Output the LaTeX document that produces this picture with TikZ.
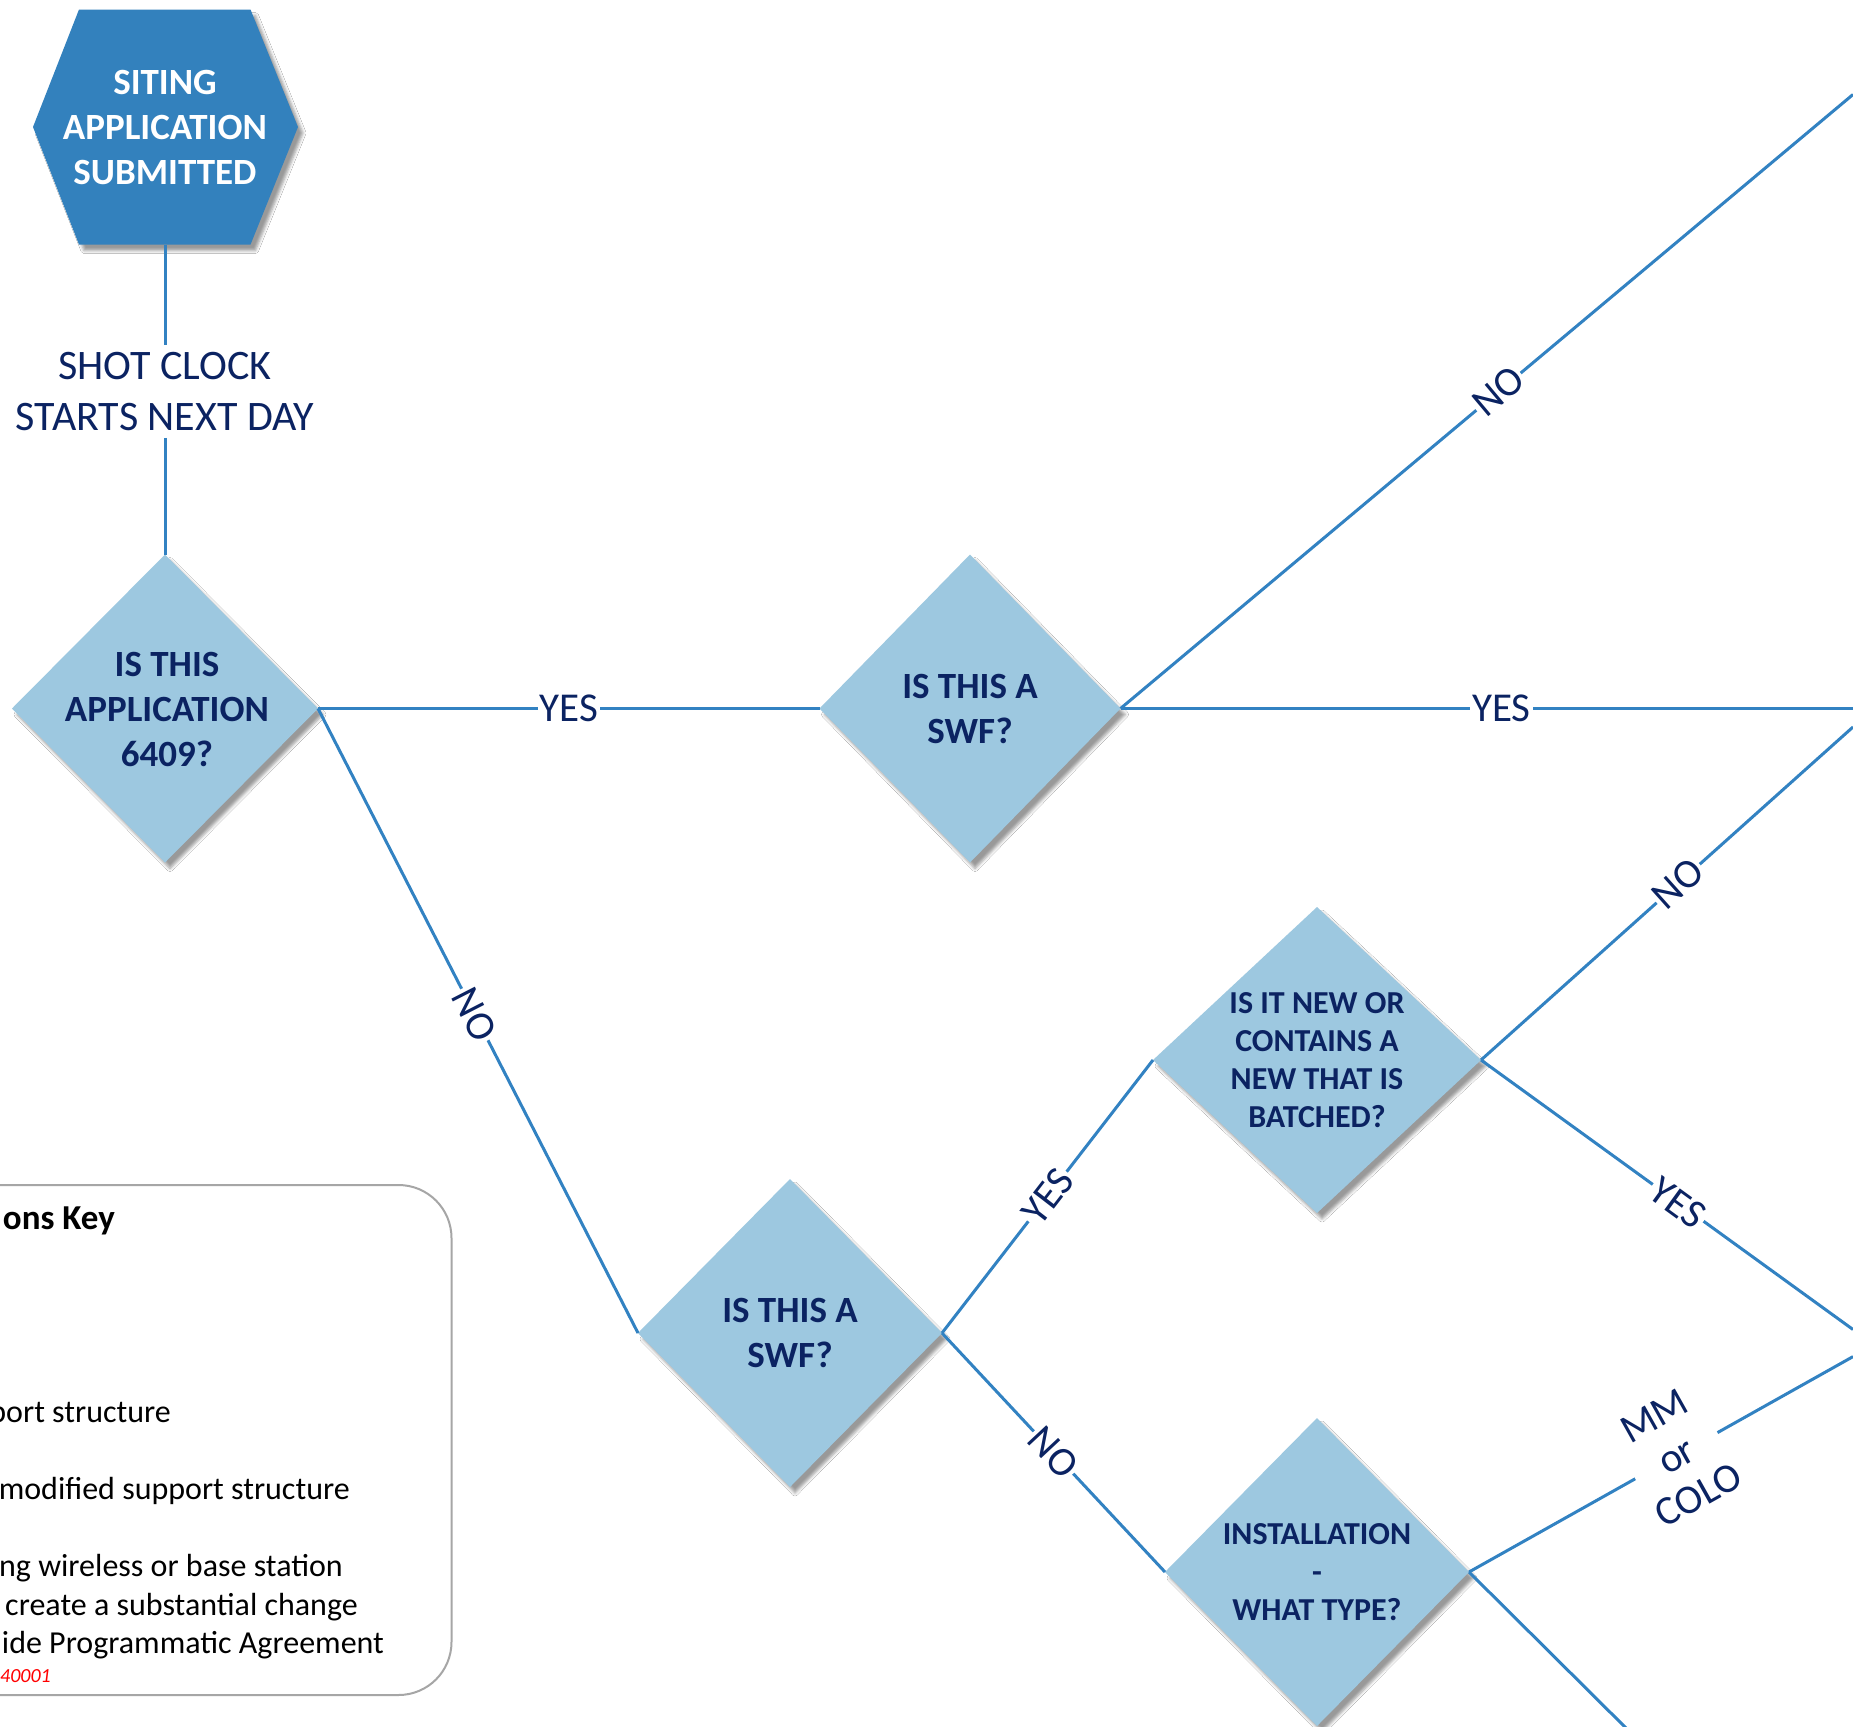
\documentclass[tikz,border=0pt]{standalone}
\usepackage{fontspec}
\setmainfont{Carlito}
\usetikzlibrary{shapes.geometric,shadows.blur}
\definecolor{linec}{HTML}{3282C2}
\definecolor{hexc}{HTML}{3381BD}
\definecolor{diac}{HTML}{9DC8E0}
\definecolor{navy}{HTML}{0B2362}
\definecolor{keyc}{HTML}{A6A6A6}
\tikzset{
  shapeshadow/.style={blur shadow={shadow xshift=5pt, shadow yshift=-6pt, shadow blur radius=3pt, shadow opacity=40}},
  conn/.style={draw=linec, line width=3pt},
  dia/.style={diamond, fill=diac, inner sep=0pt, outer sep=0pt, shapeshadow},
  qtext/.style={text=navy, font=\bfseries\fontsize{37}{45}\selectfont, align=center, inner sep=0pt},
  qsmall/.style={text=navy, font=\bfseries\fontsize{32}{38}\selectfont, align=center, inner sep=0pt},
  lbl/.style={fill=white, text=navy, font=\fontsize{41}{45}\selectfont, sloped, inner sep=2pt},
  keytext/.style={anchor=east, inner sep=0pt, font=\fontsize{32}{38.5}\selectfont},
}
\begin{document}
\begin{tikzpicture}[x=1pt,y=-1pt]
\useasboundingbox (0,0) rectangle (1853,1727);
\clip (0,0) rectangle (1853,1727);
\fill[white] (0,0) rectangle (1853,1727);

% legend box (cut off on the left)
\draw[keyc, line width=2pt, rounded corners=53pt] (-80,1185) rectangle (451.5,1695);
\node[keytext, font=\bfseries\fontsize{35}{42}\selectfont] (k0) at (115,1221) {ons Key};
\node[keytext] (k1) at (171,1415) {port structure};
\node[keytext] (k2) at (350,1491) {modified support structure};
\node[keytext] (k3) at (343,1568) {ng wireless or base station};
\node[keytext] (k4) at (358,1607) {create a substantial change};
\node[keytext] (k5) at (384,1645) {ide Programmatic Agreement};
\node[keytext, text=red, font=\itshape\fontsize{20}{24}\selectfont] (k6) at (51,1676) {40001};

% start hexagon
\path[fill=hexc, shapeshadow] (79,9.5) -- (250.5,9.5) -- (298,127) -- (250.5,244.6) -- (79,244.6) -- (33,127) -- cycle;
\node[qtext, text=white] (hex) at (165,127.5) {SITING\\APPLICATION\\SUBMITTED};
\coordinate (hexb) at (165,244.6);

% decisions
\node[dia, minimum width=306pt, minimum height=308pt] (d1) at (165,708.5) {};
\node[qtext] (t1) at (167,709) {IS THIS\\APPLICATION\\6409?};
\node[dia, minimum width=301pt, minimum height=308pt] (d2) at (970,708.5) {};
\node[qtext] (t2) at (d2.center) {IS THIS A\\SWF?};
\node[dia, minimum width=304pt, minimum height=308pt] (d3) at (790,1333) {};
\node[qtext] (t3) at (d3.center) {IS THIS A\\SWF?};
\node[dia, minimum width=328pt, minimum height=306pt] (d4) at (1317,1060) {};
\node[qsmall] (t4) at (d4.center) {IS IT NEW OR\\CONTAINS A\\NEW THAT IS\\BATCHED?};
\node[dia, minimum width=304pt, minimum height=308pt] (d5) at (1317,1572) {};
\node[qsmall] (t5) at (d5.center) {INSTALLATION\\-\\WHAT TYPE?};

% shot clock label
\node[text=navy, font=\fontsize{42}{51}\selectfont, align=center, inner sep=7pt] (clock) at (165,391.5) {SHOT CLOCK\\STARTS NEXT DAY};

% free ends at the page edge
\coordinate (e1) at (1853,94.5);
\coordinate (e2) at (1853,708.5);
\coordinate (e3) at (1853,727);
\coordinate (e4) at (1853,1329.5);
\coordinate (e5) at (1853,1356.6);
\coordinate (e6) at (1630,1732);

% connectors
\draw[conn] (hexb) -- (clock);
\draw[conn] (clock) -- (d1.north);
\draw[conn] (d1.east) -- node[lbl, pos=0.5] {YES} (d2.west);
\draw[conn] (d1.east) -- node[lbl, pos=0.49] {NO} (d3.west);
\draw[conn] (d2.east) -- node[lbl, pos=0.516] {NO} (e1);
\draw[conn] (d2.east) -- node[lbl, pos=0.52] {YES} (e2);
\draw[conn] (d3.east) -- node[lbl, pos=0.5] {YES} (d4.west);
\draw[conn] (d3.east) -- node[lbl, pos=0.5] {NO} (d5.west);
\draw[conn] (d4.east) -- node[lbl, pos=0.53] {NO} (e3);
\draw[conn] (d4.east) -- node[lbl, pos=0.53] {YES} (e4);
\draw[conn] (d5.east) -- node[lbl, pos=0.54, align=center, inner sep=1pt] {MM\\or\\COLO} (e5);
\draw[conn] (d5.east) -- (e6);
\end{tikzpicture}
\end{document}
